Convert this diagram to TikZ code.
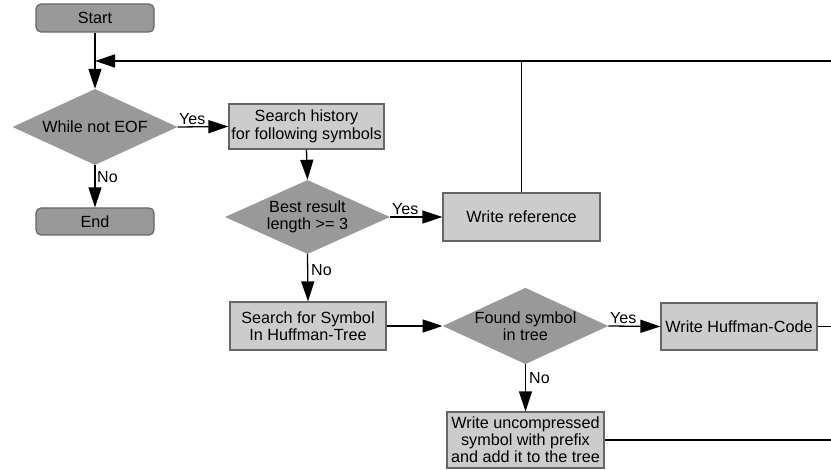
\documentclass[tikz,border=0pt]{standalone}
\usepackage{fontspec}
\setmainfont{Liberation Sans}
\usetikzlibrary{arrows.meta,shapes.geometric}
\definecolor{dgray}{HTML}{999999}
\definecolor{lgray}{HTML}{CCCCCC}
\definecolor{bgray}{HTML}{666666}
\begin{document}
\begin{tikzpicture}[x=1pt,y=-1pt,
  txt/.style={font=\fontsize{16.2}{17.5}\selectfont},
  term/.style={txt,draw=bgray,fill=dgray,rounded corners=5pt,minimum width=118pt,minimum height=28pt,line width=1.2pt,inner sep=0pt},
  proc/.style={txt,draw=bgray,fill=lgray,line width=1.2pt,align=center,inner sep=0pt},
  dec/.style={txt,draw=none,fill=dgray,diamond,aspect=2.17,inner sep=0pt,align=center},
  conn/.style={line width=1.3pt,-{Triangle[length=20pt,width=13pt]}},
  line/.style={line width=1.3pt},
  lbl/.style={font=\fontsize{16}{17}\selectfont,inner sep=0pt}]
\useasboundingbox (0,0) rectangle (831,470);

\node[term] (start) at (95,18) {Start};
\node[dec,minimum width=165pt,minimum height=76pt] (loop) at (95,127) {While not EOF};
\node[term,minimum height=27pt] (end) at (95,221.5) {End};
\node[proc,minimum width=155pt,minimum height=45pt] (hist) at (306.5,126.5) {Search history\\for following symbols};
\node[dec,minimum width=165pt,minimum height=74pt] (best) at (307.5,217) {Best result\\length >= 3};
\node[proc,minimum width=157pt,minimum height=48pt] (ref) at (521.5,217) {Write reference};
\node[proc,minimum width=156pt,minimum height=48pt] (sym) at (308,326) {Search for Symbol\\In Huffman-Tree};
\node[dec,minimum width=165pt,minimum height=76pt] (found) at (525.5,326) {Found symbol\\in tree};
\node[proc,minimum width=156pt,minimum height=47pt] (huff) at (739,326.5) {Write Huffman-Code};
\node[proc,minimum width=157pt,minimum height=56pt,font=\fontsize{16.2}{17}\selectfont] (unc) at (525.5,440) {Write uncompressed\\symbol with prefix\\and add it to the tree};

\coordinate (join) at (95,61);
\coordinate (topr) at (831,61);
\coordinate (refup) at (521.5,61);
\coordinate (huffr) at (831,326.5);
\coordinate (uncr) at (831,440);

\draw[line] (start) -- (join);
\draw[conn] (join) -- (loop.north);
\draw[conn] (topr) -- (join);
\draw[line] (ref.north) -- (refup);
\draw[conn] (loop.south) -- (end.north);
\draw[conn] (loop.east) -- (hist.west);
\draw[conn] (hist.south) -- (best.north);
\draw[conn] (best.east) -- (ref.west);
\draw[conn] (best.south) -- (sym.north);
\draw[conn] (sym.east) -- (found.west);
\draw[conn] (found.east) -- (huff.west);
\draw[conn] (found.south) -- (unc.north);
\draw[line] (huff.east) -- (huffr);
\draw[line] (unc.east) -- (uncr);

\node[lbl,anchor=south west] at (179,125) {Yes};
\node[lbl,anchor=west] at (97,177) {No};
\node[lbl,anchor=south west] at (392,215) {Yes};
\node[lbl,anchor=west] at (311,270) {No};
\node[lbl,anchor=south west] at (610,324) {Yes};
\node[lbl,anchor=west] at (529,378) {No};
\end{tikzpicture}
\end{document}
